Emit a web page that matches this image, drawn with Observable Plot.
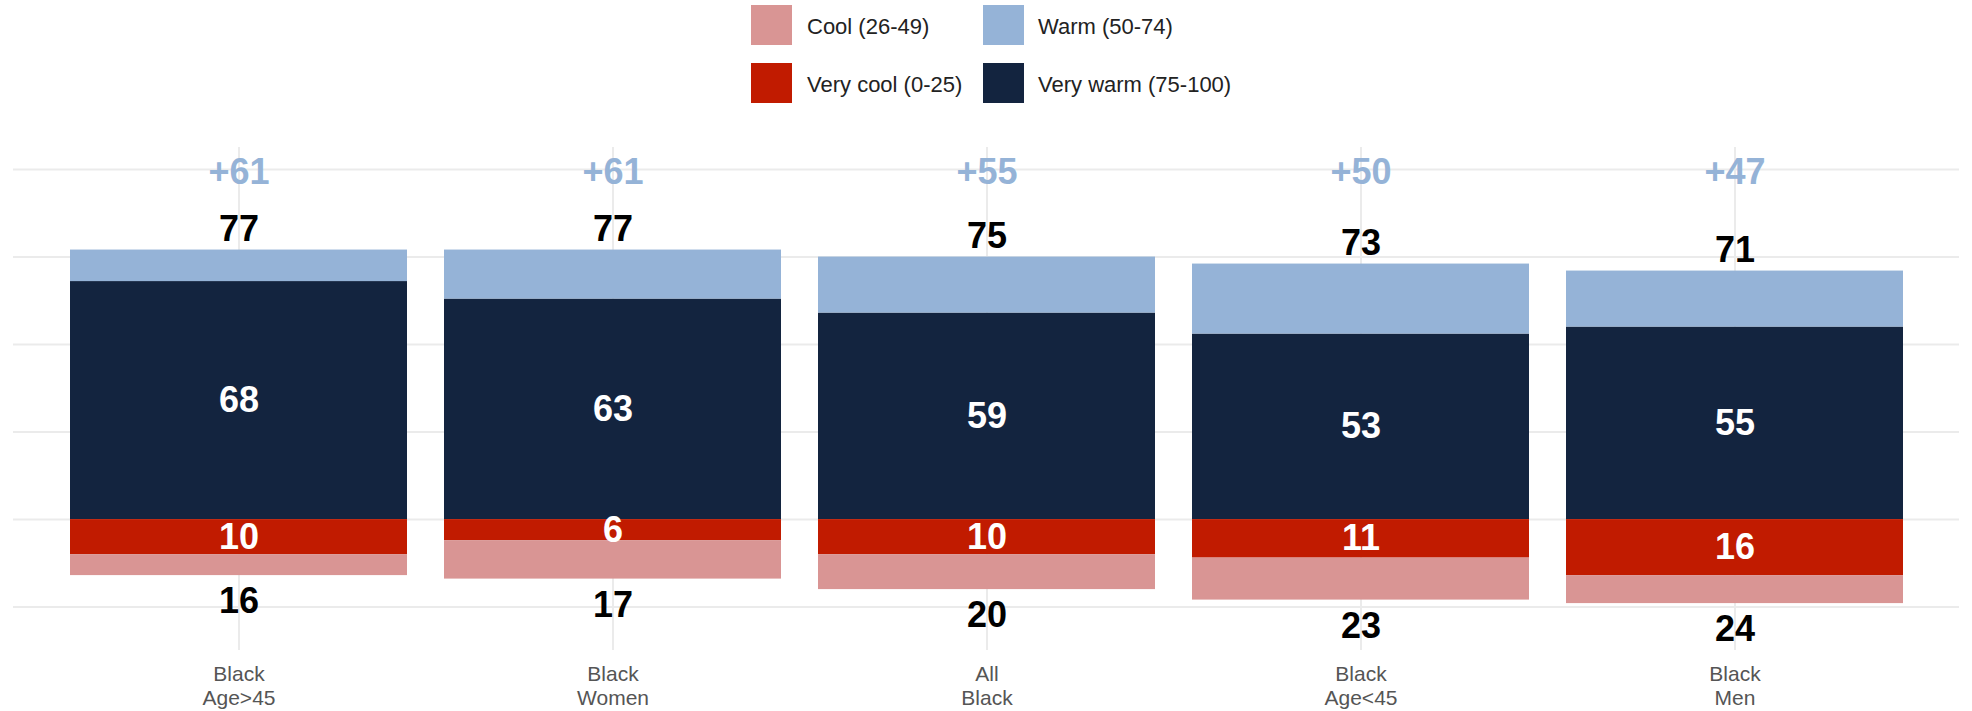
<!DOCTYPE html>
<html>
<head>
<meta charset="utf-8">
<script src="https://cdn.jsdelivr.net/npm/d3@7"></script>
<script src="https://cdn.jsdelivr.net/npm/@observablehq/plot@0.6"></script>
<style>
  html, body { margin: 0; padding: 0; background: #fff; overflow: hidden; }
  body { width: 1972px; height: 711px; font-family: "Liberation Sans", Arial, Helvetica, sans-serif; }
  #legend { position: relative; width: 1972px; height: 118px; }
  .sw { position: absolute; width: 41px; height: 40px; }
  .lt { position: absolute; font-size: 22px; color: #222; line-height: 40px; white-space: nowrap; }
  #chart svg { display: block; }
</style>
</head>
<body>
<div id="legend"></div>
<div id="chart"></div>
<script>
// ---- data ----
const categories = ["Black Age>45", "Black Women", "All Black", "Black Age<45", "Black Men"];
const tickLabels = ["Black\nAge>45", "Black\nWomen", "All\nBlack", "Black\nAge<45", "Black\nMen"];
const veryWarm = [68, 63, 59, 53, 55];
const warm     = [9, 14, 16, 20, 16];
const veryCool = [10, 6, 10, 11, 16];
const cool     = [6, 11, 10, 12, 8];
const net      = [61, 61, 55, 50, 47];
const yTicks   = [-25, 0, 25, 50, 75, 100];
const keys     = ["Very warm (75-100)", "Warm (50-74)", "Very cool (0-25)", "Cool (26-49)"];
const colors   = ["#13243f", "#95b3d7", "#c11b00", "#d99594"];
const legendOrder = ["Cool (26-49)", "Warm (50-74)", "Very cool (0-25)", "Very warm (75-100)"];

// ---- tables ----
const long = categories.flatMap((c, i) => [
  {cat: c, key: keys[0], value: veryWarm[i], label: String(veryWarm[i])},
  {cat: c, key: keys[1], value: warm[i], label: ""},
  {cat: c, key: keys[2], value: -veryCool[i], label: String(veryCool[i])},
  {cat: c, key: keys[3], value: -cool[i], label: ""}
]);
const summary = categories.map((c, i) => ({
  cat: c,
  top: veryWarm[i] + warm[i],
  bottom: -(veryCool[i] + cool[i]),
  net: net[i]
}));

// ---- legend ----
const legend = document.getElementById("legend");
const colLeft = [751, 983], textLeft = [807, 1038], rowTop = [5, 63];
legendOrder.forEach((k, j) => {
  const col = j % 2, row = Math.floor(j / 2);
  const sw = document.createElement("div");
  sw.className = "sw";
  sw.style.left = colLeft[col] + "px";
  sw.style.top = rowTop[row] + "px";
  sw.style.background = colors[keys.indexOf(k)];
  legend.appendChild(sw);
  const t = document.createElement("div");
  t.className = "lt";
  t.style.left = textLeft[col] + "px";
  t.style.top = (rowTop[row] + 2) + "px";
  t.textContent = k;
  legend.appendChild(t);
});

// ---- chart ----
const labelFont = {fontSize: 36, fontWeight: "bold"};
const chart = Plot.plot({
  width: 1972,
  height: 593,
  marginLeft: 13,
  marginRight: 13,
  marginTop: 29,
  marginBottom: 61,
  style: {fontFamily: "'Liberation Sans', Arial, Helvetica, sans-serif", background: "#fff"},
  x: {domain: categories, paddingInner: 0.1, paddingOuter: 0.15, axis: null},
  y: {domain: [-37.4, 106.3], axis: null},
  color: {domain: keys, range: colors},
  marks: [
    Plot.ruleY(yTicks, {stroke: "#ebebeb", strokeWidth: 2}),
    Plot.ruleX(categories, {stroke: "#ebebeb", strokeWidth: 2}),
    Plot.barY(long, {x: "cat", y: "value", fill: "key"}),
    Plot.text(long, Plot.stackY({x: "cat", y: "value", z: "key", text: "label", fill: "white", ...labelFont})),
    Plot.text(summary, {x: "cat", y: "top", text: d => String(d.top), dy: -21, fill: "black", ...labelFont}),
    Plot.text(summary, {x: "cat", y: "bottom", text: d => String(-d.bottom), dy: 26, fill: "black", ...labelFont}),
    Plot.text(summary, {x: "cat", frameAnchor: "top", lineAnchor: "middle", dy: 25, text: d => "+" + d.net, fill: "#95b3d7", ...labelFont}),
    Plot.axisX({
      tickSize: 0,
      tickPadding: 14,
      fontSize: 21,
      lineHeight: 1.12,
      fill: "#555",
      label: null,
      tickFormat: d => tickLabels[categories.indexOf(d)]
    })
  ]
});
document.getElementById("chart").appendChild(chart);
</script>
</body>
</html>
